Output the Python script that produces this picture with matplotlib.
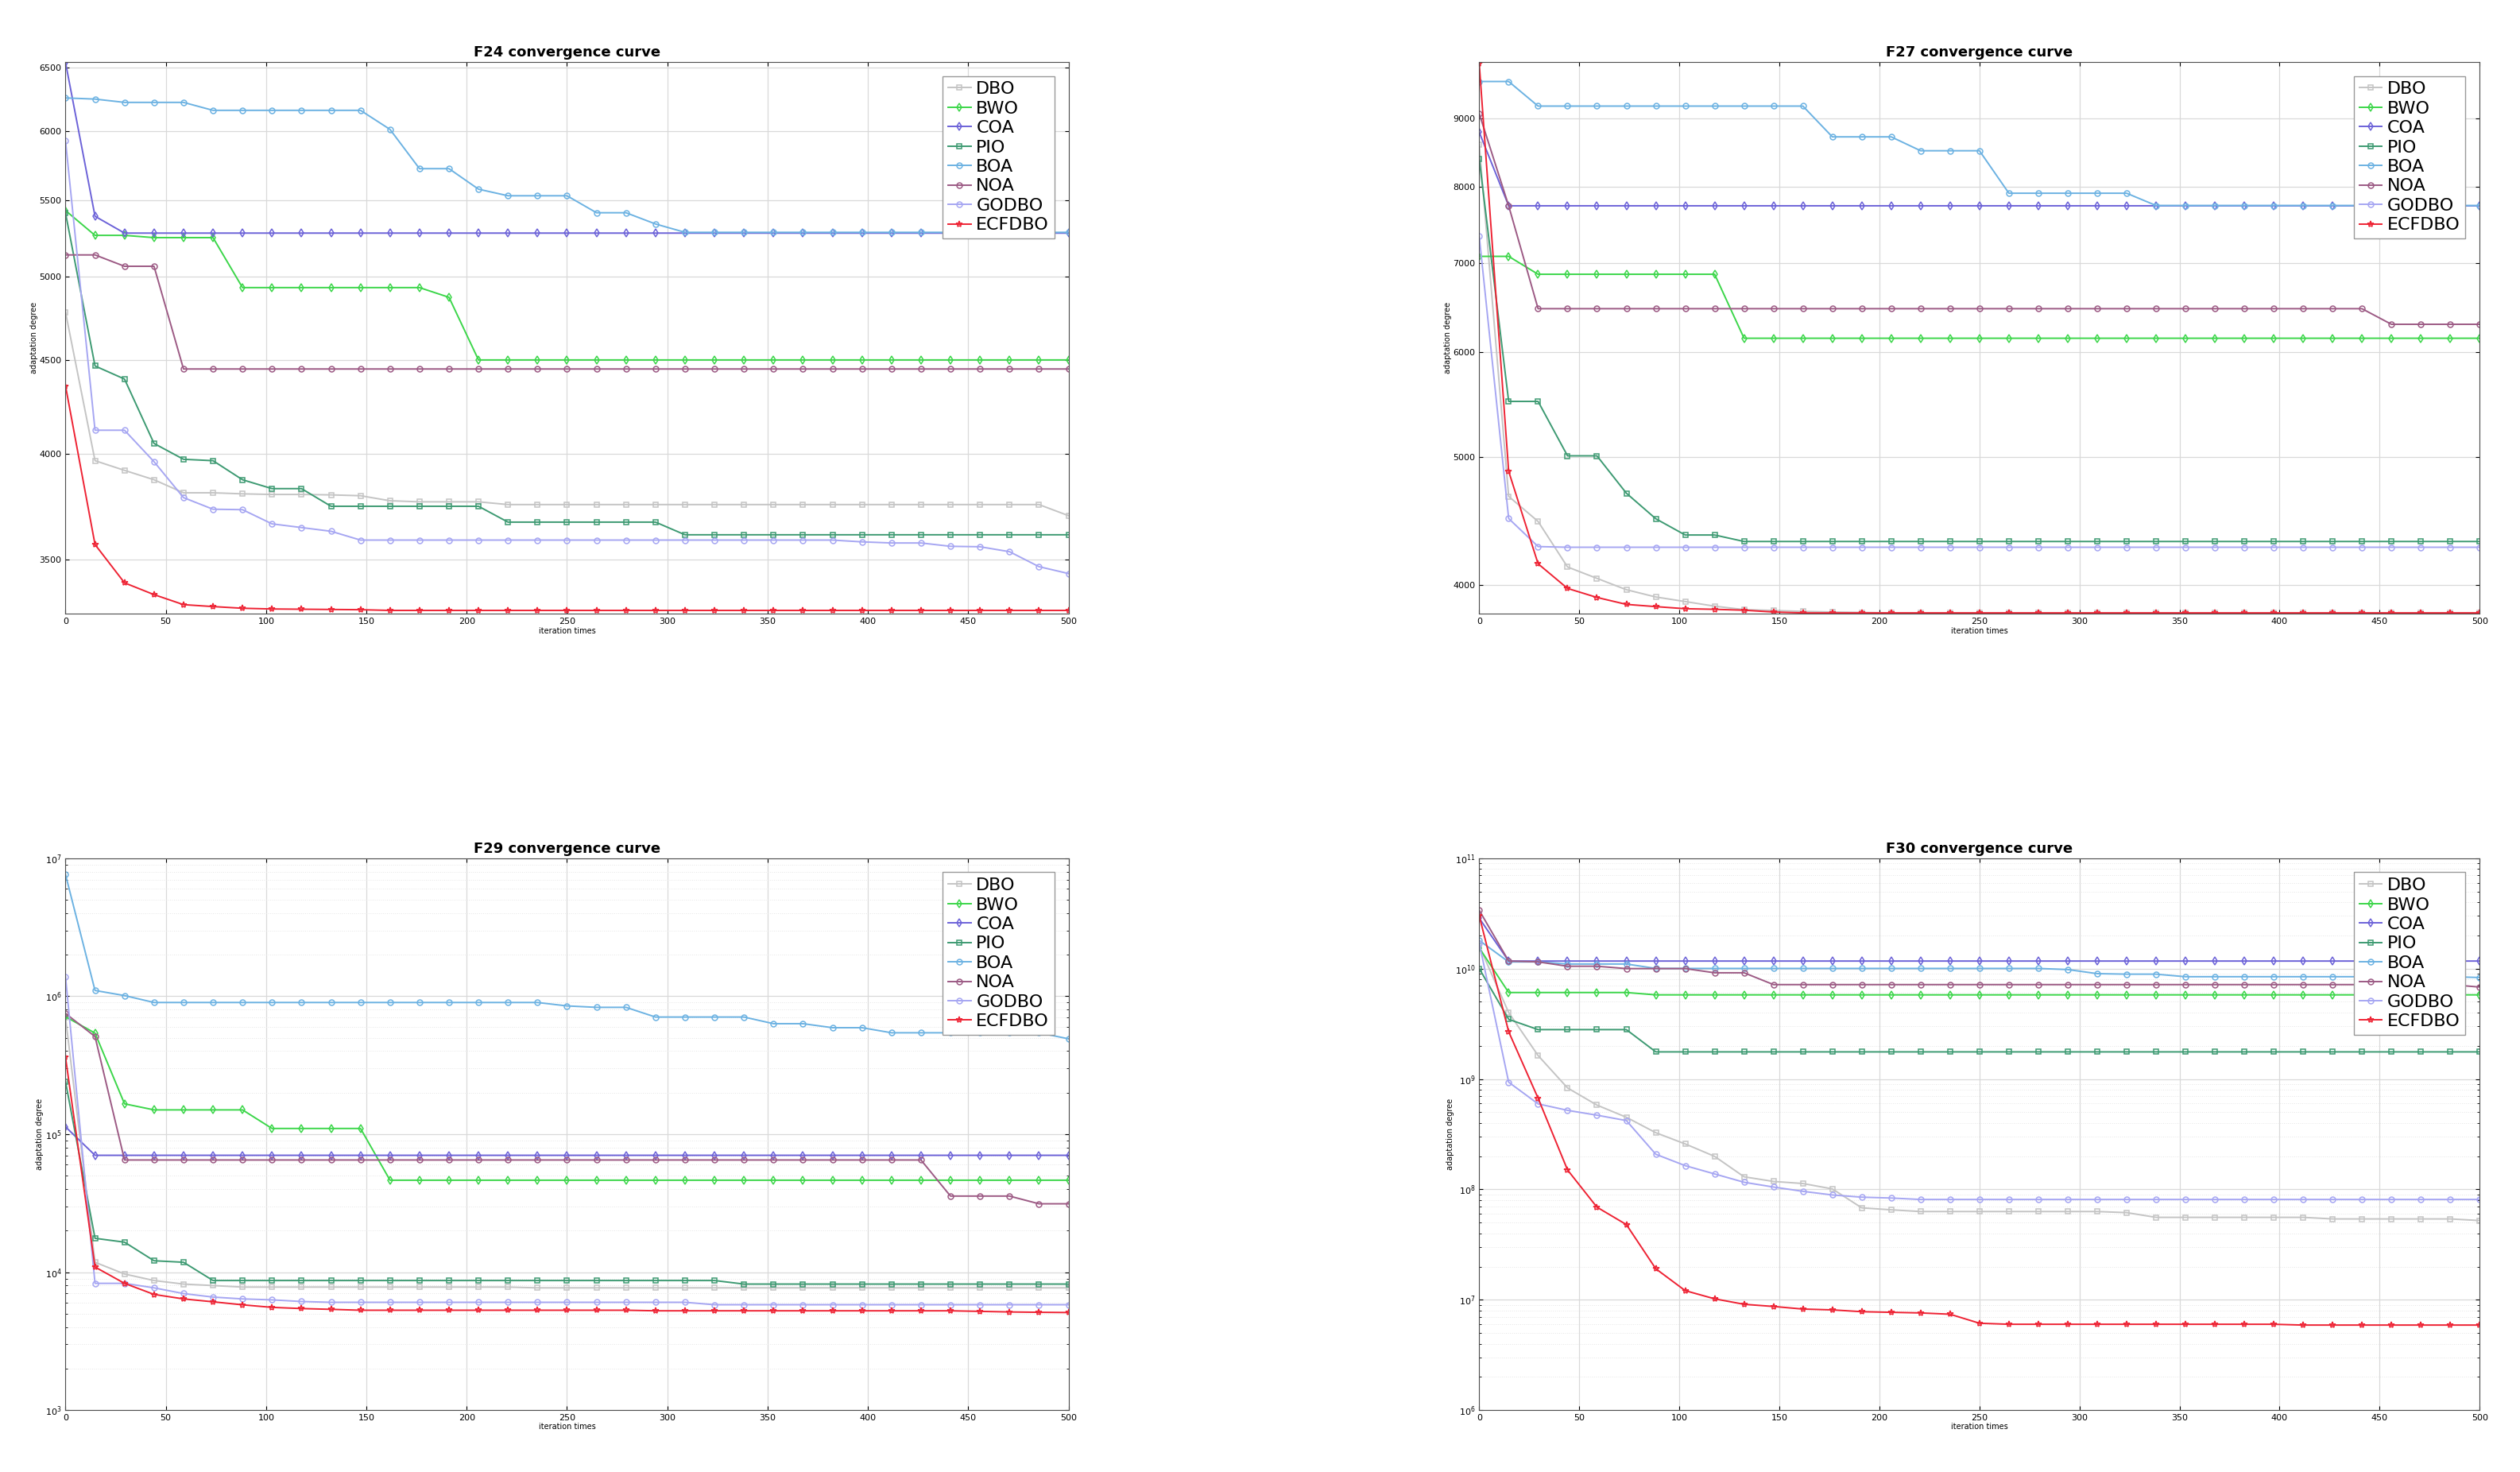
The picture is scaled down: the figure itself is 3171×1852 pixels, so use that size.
import numpy as np
import matplotlib; matplotlib.use("Agg"); import matplotlib.pyplot as plt
from matplotlib.ticker import FixedLocator, FixedFormatter, NullFormatter, LogLocator

names = ["DBO", "BWO", "COA", "PIO", "BOA", "NOA", "GODBO", "ECFDBO"]
iters = np.linspace(0, 500, 35)  # marker/sample iterations

# F24 (35 samples per algorithm)
f24 = {
    "DBO":   [4780, 3965, 3917, 3871, 3808, 3808, 3803, 3800, 3800, 3798, 3794, 3770, 3765, 3765, 3765] + [3752] * 19 + [3700],
    "BWO":   [5432, 5265, 5265, 5250, 5250, 5250] + [4930] * 7 + [4870] + [4501] * 21,
    "COA":   [6544, 5393] + [5280] * 33,
    "PIO":   [5415, 4467, 4394, 4052, 3972, 3965, 3871, 3828, 3828] + [3744] * 6 + [3670] * 6 + [3612] * 14,
    "BOA":   [6259, 6250, 6224, 6224, 6224] + [6162] * 6 + [6016, 5726, 5726, 5580, 5534, 5534, 5534, 5417, 5417, 5341] + [5285] * 14,
    "NOA":   [5137, 5137, 5064, 5064] + [4450] * 31,
    "GODBO": [5930, 4120, 4120, 3960, 3785, 3730, 3728, 3662, 3645, 3628] + [3588] * 17 + [3580, 3575, 3575, 3560, 3558, 3536, 3470, 3440],
    "ECFDBO": [4356, 3568, 3400, 3350, 3308, 3300, 3293, 3290, 3289, 3288, 3287] + [3284] * 24,
}
# F27
f27 = {
    "DBO":   [8600, 4668, 4469, 4129, 4048, 3969, 3919, 3888, 3857, 3834, 3828, 3822, 3818, 3815] + [3812] * 21,
    "BWO":   [7085, 7085] + [6868] * 7 + [6145] * 26,
    "COA":   [8791] + [7736] * 34,
    "PIO":   [8388, 5506, 5506, 5009, 5009, 4694, 4490, 4365, 4365] + [4316] * 26,
    "BOA":   [9602, 9602] + [9200] * 10 + [8721] * 3 + [8513] * 3 + [7907] * 5 + [7740] * 12,
    "NOA":   [9080, 7736] + [6469] * 29 + [6296] * 4,
    "GODBO": [7336, 4492, 4278] + [4273] * 32,
    "ECFDBO": [9900, 4876, 4152, 3978, 3916, 3869, 3854, 3840, 3836, 3830, 3818] + [3812] * 24,
}
# F29
f29 = {
    "DBO":   [7.0e5, 1.18e4, 9.7e3, 8.7e3, 8.2e3, 8.0e3] + [7.8e3] * 10 + [7.7e3] * 19,
    "BWO":   [7.1e5, 5.4e5, 1.66e5, 1.5e5, 1.5e5, 1.5e5, 1.5e5] + [1.1e5] * 4 + [4.64e4] * 24,
    "COA":   [1.13e5] + [7.03e4] * 34,
    "PIO":   [2.4e5, 1.76e4, 1.65e4, 1.21e4, 1.18e4] + [8.7e3] * 18 + [8.2e3] * 12,
    "BOA":   [7.6e6, 1.1e6, 1.01e6] + [9.0e5] * 14 + [8.5e5, 8.3e5, 8.3e5] + [7.06e5] * 4 + [6.32e5] * 2 + [5.91e5] * 2 + [5.43e5] * 6 + [4.91e5],
    "NOA":   [7.5e5, 5.1e5] + [6.5e4] * 28 + [3.56e4] * 3 + [3.13e4] * 2,
    "GODBO": [1.38e6, 8.3e3, 8.3e3, 7.7e3, 7.0e3, 6.6e3, 6.4e3, 6.3e3, 6.13e3] + [6.05e3] * 13 + [5.81e3] * 13,
    "ECFDBO": [3.6e5, 1.09e4, 8.3e3, 6.9e3, 6.4e3, 6.1e3, 5.8e3, 5.56e3, 5.45e3, 5.38e3] + [5.3e3] * 10 + [5.25e3] * 11 + [5.2e3, 5.15e3, 5.12e3, 5.1e3],
}
# F30
f30 = {
    "DBO":   [1.6e10, 4.0e9, 1.63e9, 8.3e8, 5.8e8, 4.5e8, 3.26e8, 2.58e8, 1.99e8, 1.3e8, 1.18e8, 1.13e8, 1.01e8, 6.8e7, 6.53e7]
             + [6.3e7] * 7 + [6.16e7] + [5.58e7] * 6 + [5.4e7] * 5 + [5.22e7],
    "BWO":   [1.54e10] + [6.07e9] * 5 + [5.78e9] * 29,
    "COA":   [2.86e10] + [1.17e10] * 34,
    "PIO":   [1.0e10, 3.47e9, 2.8e9, 2.8e9, 2.8e9, 2.8e9] + [1.76e9] * 29,
    "BOA":   [1.8e10, 1.15e10, 1.15e10, 1.1e10, 1.1e10, 1.1e10] + [1.003e10] * 14 + [9.8e9, 9.0e9, 8.9e9, 8.9e9] + [8.44e9] * 10 + [8.3e9],
    "NOA":   [3.37e10, 1.17e10, 1.15e10, 1.05e10, 1.05e10, 1.0e10, 1.0e10, 1.0e10, 9.16e9, 9.16e9] + [7.16e9] * 24 + [6.8e9],
    "GODBO": [1.7e10, 9.35e8, 5.95e8, 5.2e8, 4.7e8, 4.2e8, 2.08e8, 1.64e8, 1.38e8, 1.16e8, 1.05e8, 9.6e7, 8.9e7, 8.5e7, 8.35e7] + [8.1e7] * 20,
    "ECFDBO": [3.0e10, 2.68e9, 6.7e8, 1.5e8, 6.9e7, 4.8e7, 1.91e7, 1.21e7, 1.02e7, 9.1e6, 8.7e6, 8.24e6, 8.1e6, 7.8e6, 7.7e6, 7.6e6, 7.4e6, 6.13e6]
              + [6.0e6] * 10 + [5.9e6] * 7,
}

styles = {
    "DBO":    dict(color="#c4c4c4", marker="s"),
    "BWO":    dict(color="#3cd64a", marker="d"),
    "COA":    dict(color="#6c62d8", marker="d"),
    "PIO":    dict(color="#3d9a72", marker="s"),
    "BOA":    dict(color="#6cb2e2", marker="o"),
    "NOA":    dict(color="#9c5a84", marker="o"),
    "GODBO":  dict(color="#a6a6f2", marker="o"),
    "ECFDBO": dict(color="#ee2233", marker="*"),
}

panels = [
    ("F24", f24, (3270, 6550), [3500, 4000, 4500, 5000, 5500, 6000, 6500], None, [0.026, 0.583, 0.398, 0.375]),
    ("F27", f27, (3806, 9936), [4000, 5000, 6000, 7000, 8000, 9000], None, [0.587, 0.583, 0.397, 0.375]),
    ("F29", f29, (1e3, 1e7), None, (3, 7), [0.026, 0.042, 0.398, 0.375]),
    ("F30", f30, (1e6, 1e11), None, (6, 11), [0.587, 0.042, 0.397, 0.375]),
]

fig = plt.figure(figsize=(31.71, 18.52), dpi=100)
for title, data, ylim, yticks, decades, rect in panels:
    ax = fig.add_axes(rect)
    for n in names:
        st = styles[n]
        ax.plot(iters, data[n], color=st["color"], marker=st["marker"], mfc="none",
                mec=st["color"], ms=5 if st["marker"] != "*" else 6, lw=1.4, mew=1.1, label=n)
    ax.set_yscale("log")
    ax.set_xlim(0, 500); ax.set_ylim(*ylim)
    ax.set_xticks(range(0, 501, 50))
    if yticks is not None:
        ax.yaxis.set_major_locator(FixedLocator(yticks))
        ax.yaxis.set_major_formatter(FixedFormatter([str(t) for t in yticks]))
        ax.yaxis.set_minor_locator(LogLocator(base=10, subs=np.arange(1, 10) * 0.1, numticks=50))
    else:
        ax.yaxis.set_major_locator(FixedLocator([10.0 ** k for k in range(decades[0], decades[1] + 1)]))
        ax.yaxis.set_major_formatter(FixedFormatter([f"$10^{{{k}}}$" for k in range(decades[0], decades[1] + 1)]))
    ax.yaxis.set_minor_formatter(NullFormatter())
    ax.grid(True, which="major", color="0.85", lw=0.9)
    ax.grid(True, which="minor", axis="y", color="0.9", lw=0.7, ls=":")
    ax.tick_params(labelsize=8, direction="in", which="both", right=True, top=True)
    for s in ax.spines.values():
        s.set_color("0.3")
    ax.set_title(f"{title} convergence curve", fontsize=13, fontweight="bold", pad=5)
    ax.set_xlabel("iteration times", fontsize=7, labelpad=1)
    ax.set_ylabel("adaptation degree", fontsize=7, labelpad=1)
    ax.legend(loc="upper right", fontsize=16, handlelength=1.3, handletextpad=0.3,
              labelspacing=0.2, borderpad=0.3, fancybox=False, edgecolor="0.6",
              framealpha=1, borderaxespad=0.8)

fig.savefig("out.png", dpi=100)
